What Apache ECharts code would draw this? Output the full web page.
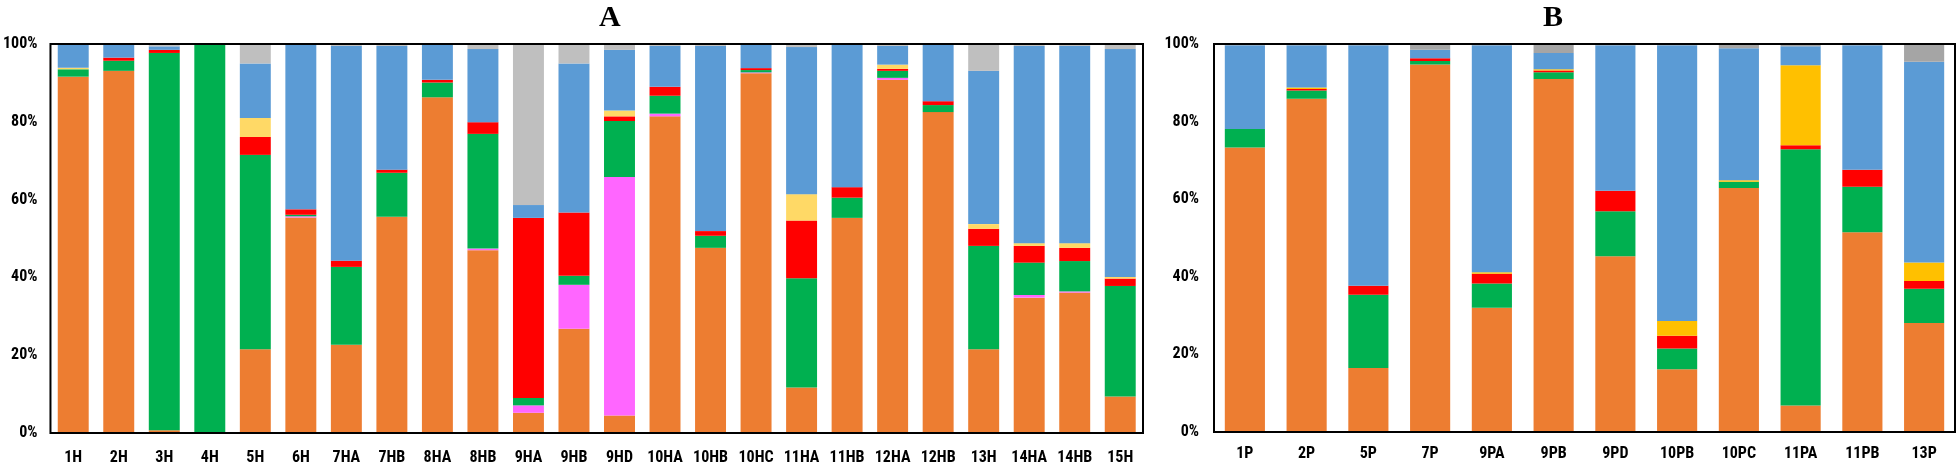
<!DOCTYPE html>
<html>
<head>
<meta charset="utf-8">
<script src="https://cdn.jsdelivr.net/npm/echarts@6/dist/echarts.min.js"></script>
<style>
  html, body { margin: 0; padding: 0; background: #fff; }
  #chart { width: 1957px; height: 466px; }
</style>
</head>
<body>
<div id="chart"></div>
<script>
// ---- Panel A ----
var catsA = ['1H','2H','3H','4H','5H','6H','7HA','7HB','8HA','8HB','9HA','9HB','9HD','10HA','10HB','10HC','11HA','11HB','12HA','12HB','13H','14HA','14HB','15H'];
var orangeA  = [91.6,93.1,0.7,0,21.5,55.4,22.7,55.6,86.3,47.0,5.2,26.8,4.5,81.4,47.6,92.5,11.7,55.3,90.8,82.5,21.5,34.8,36.1,9.4];
var magentaA = [0,0,0,0,0,0.3,0,0,0,0.4,1.9,11.3,61.3,0.7,0,0.2,0,0,0.5,0,0,0.7,0.3,0];
var greenA   = [1.9,2.6,97.0,100,50.0,0.4,20.0,11.3,3.8,29.5,1.9,2.3,14.4,4.6,3.1,0.6,28.1,5.2,1.8,1.8,26.6,8.3,7.8,28.4];
var redA     = [0,0.8,0.8,0,4.6,1.4,1.6,0.8,0.7,3.0,46.3,16.3,1.2,2.3,1.2,0.5,14.8,2.7,0.5,1.0,4.4,4.3,3.4,1.9];
var yellowA  = [0.4,0,0,0,4.9,0,0,0,0,0,0,0,1.5,0,0,0,6.8,0,1.1,0,1.2,0.7,1.2,0.4];
var blueA    = [6.1,3.5,0.9,0,14.0,42.5,55.2,31.8,9.2,18.8,3.3,38.3,15.6,10.5,47.6,6.2,37.8,36.8,4.8,14.7,39.4,50.7,50.7,58.6];
var grayA    = [0,0,0.6,0,5.0,0,0.5,0.5,0,1.3,41.4,5.0,1.5,0.5,0.5,0,0.8,0,0.5,0,6.9,0.5,0.5,1.3];

// ---- Panel B ----
var catsB = ['1P','2P','5P','7P','9PA','9PB','9PD','10PB','10PC','11PA','11PB','13P'];
var orangeB = [73.3,85.9,16.5,94.7,32.0,91.0,45.3,16.2,62.9,6.8,51.5,28.1];
var greenB  = [4.8,2.1,18.9,0.9,6.3,1.7,11.6,5.3,1.6,66.1,11.7,8.8];
var redB    = [0,0.4,2.3,0.7,2.5,0.5,5.3,3.3,0,1.0,4.4,2.0];
var yellowB = [0,0.4,0,0,0.4,0.3,0,3.8,0.4,20.6,0,4.8];
var blueB   = [21.6,10.9,62.0,2.2,58.5,4.2,37.5,71.1,34.0,4.9,32.1,51.7];
var grayB   = [0.3,0.3,0.3,1.5,0.3,2.3,0.3,0.3,1.1,0.6,0.3,4.6];

var labelFont = "'Roboto Condensed','Open Sans Condensed','DejaVu Sans Condensed',sans-serif";
var titleFont = "'Liberation Serif','Times New Roman',serif";

function stackSeries(name, data, color, idx, stack) {
  return {
    name: name, type: 'bar', stack: stack, data: data,
    xAxisIndex: idx, yAxisIndex: idx,
    itemStyle: { color: color },
    barCategoryGap: idx === 0 ? '32%' : '35%',
    emphasis: { disabled: true },
    z: 2
  };
}

function yAxisDef(idx, margin) {
  return {
    type: 'value', gridIndex: idx, min: 0, max: 100, interval: 20,
    axisLine: { show: false }, axisTick: { show: false }, splitLine: { show: false },
    axisLabel: {
      formatter: '{value}%', margin: margin, color: '#000',
      fontFamily: labelFont, fontWeight: 'bold', fontSize: 16
    }
  };
}
function xAxisDef(idx, cats, margin) {
  return {
    type: 'category', gridIndex: idx, data: cats,
    axisLine: { show: false }, axisTick: { show: false }, splitLine: { show: false },
    axisLabel: {
      margin: margin, color: '#000', interval: 0,
      fontFamily: labelFont, fontWeight: 'bold', fontSize: 16
    }
  };
}

var chart = echarts.init(document.getElementById('chart'), null, { renderer: 'canvas' });

var option = {
  backgroundColor: '#fff',
  animation: false,
  title: [
    { text: 'A', left: 594, top: -2,
      textStyle: { fontFamily: titleFont, fontWeight: 'bold', fontSize: 30, color: '#000' } },
    { text: 'B', left: 1538, top: -2,
      textStyle: { fontFamily: titleFont, fontWeight: 'bold', fontSize: 30, color: '#000' } }
  ],
  grid: [
    { left: 49, right: 814, top: 44, bottom: 33, show: true, z: 10,
      backgroundColor: 'transparent', borderColor: '#000', borderWidth: 2 },
    { left: 1214, right: 2, top: 44, bottom: 34, show: true, z: 10,
      backgroundColor: 'transparent', borderColor: '#000', borderWidth: 2 }
  ],
  xAxis: [ xAxisDef(0, catsA, 17), xAxisDef(1, catsB, 14) ],
  yAxis: [ yAxisDef(0, 13), yAxisDef(1, 15) ],
  series: [
    stackSeries('orange',  orangeA,  '#ED7D31', 0, 'A'),
    stackSeries('magenta', magentaA, '#FF66FF', 0, 'A'),
    stackSeries('green',   greenA,   '#00B050', 0, 'A'),
    stackSeries('red',     redA,     '#FF0000', 0, 'A'),
    stackSeries('yellow',  yellowA,  '#FFD966', 0, 'A'),
    stackSeries('blue',    blueA,    '#5B9BD5', 0, 'A'),
    stackSeries('gray',    grayA,    '#BFBFBF', 0, 'A'),
    stackSeries('orangeB', orangeB,  '#ED7D31', 1, 'B'),
    stackSeries('greenB',  greenB,   '#00B050', 1, 'B'),
    stackSeries('redB',    redB,     '#FF0000', 1, 'B'),
    stackSeries('yellowB', yellowB,  '#FFC000', 1, 'B'),
    stackSeries('blueB',   blueB,    '#5B9BD5', 1, 'B'),
    stackSeries('grayB',   grayB,    '#A5A5A5', 1, 'B')
  ]
};
chart.setOption(option);
</script>
</body>
</html>
